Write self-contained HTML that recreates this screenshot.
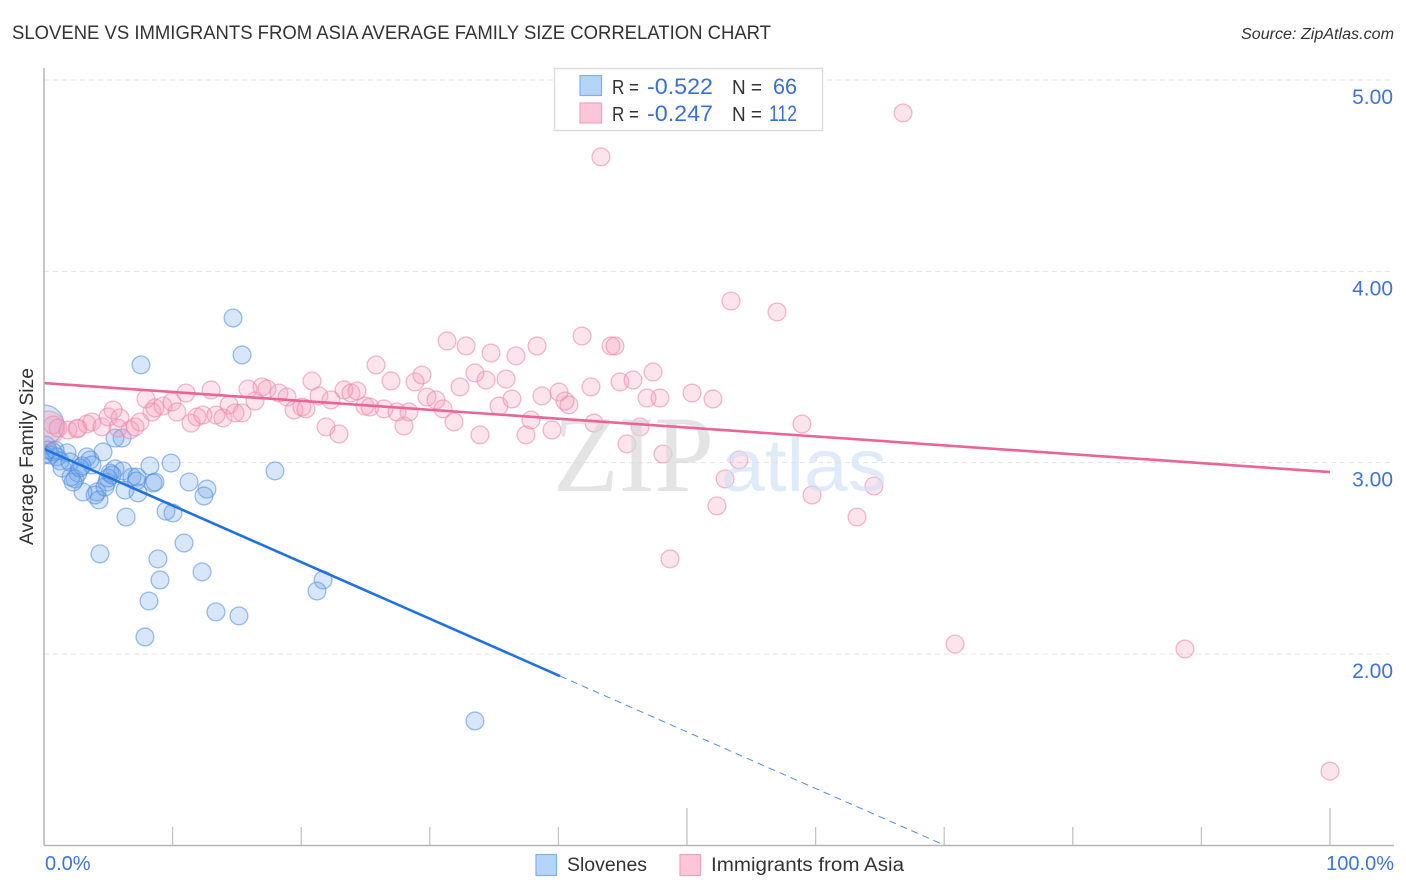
<!DOCTYPE html>
<html>
<head>
<meta charset="utf-8">
<title>Slovene vs Immigrants from Asia Average Family Size Correlation Chart</title>
<style>
html,body{margin:0;padding:0;background:#fff;}
svg{display:block;font-family:"Liberation Sans",sans-serif;}
</style>
</head>
<body>
<svg id="chart" xmlns="http://www.w3.org/2000/svg" width="1406" height="892" viewBox="0 0 1406 892">
  <defs><clipPath id="plot-clip"><rect x="44" y="60" width="1350" height="785"/></clipPath></defs>
  <text x="12" y="39" font-size="19.5" fill="#333" textLength="759" lengthAdjust="spacingAndGlyphs">SLOVENE VS IMMIGRANTS FROM ASIA AVERAGE FAMILY SIZE CORRELATION CHART</text>
  <text x="1241" y="39" font-size="15.5" font-style="italic" fill="#333" textLength="153" lengthAdjust="spacingAndGlyphs">Source: ZipAtlas.com</text>
  <g id="grid"></g>
  <g id="marks-blue" clip-path="url(#plot-clip)"></g>
  <g id="marks-pink" clip-path="url(#plot-clip)"></g>
  <text x="553" y="491" font-family="'Liberation Serif',serif" font-size="109" fill="#d9d9d9" fill-opacity="0.7" textLength="161" lengthAdjust="spacingAndGlyphs">ZIP</text>
  <text x="721" y="491" font-size="74" fill="#cfe0f6" fill-opacity="0.65" textLength="166" lengthAdjust="spacingAndGlyphs">atlas</text>
  <g id="lines"></g>
  <g id="axes"></g>
  <text transform="translate(33,545) rotate(-90)" font-size="19" fill="#333" textLength="177" lengthAdjust="spacingAndGlyphs">Average Family Size</text>

  <g>
    <rect x="554.5" y="68.5" width="268" height="62" fill="#fff" stroke="#dcdcdc" stroke-width="1.5"/>
    <rect x="580" y="75.5" width="21.5" height="20" fill="#b6d3f8" stroke="#7fb0ea" stroke-width="1.2"/>
    <rect x="580" y="103" width="21.5" height="20" fill="#fcc6d8" stroke="#f2a3bf" stroke-width="1.2"/>
    <text x="612" y="94" font-size="20" fill="#333" textLength="27" lengthAdjust="spacingAndGlyphs">R =</text>
    <text x="647" y="94" font-size="22" fill="#3a6fd2" textLength="66" lengthAdjust="spacingAndGlyphs">-0.522</text>
    <text x="732" y="94" font-size="20" fill="#333" textLength="30" lengthAdjust="spacingAndGlyphs">N =</text>
    <text x="773" y="94" font-size="22" fill="#3a6fd2" textLength="24" lengthAdjust="spacingAndGlyphs">66</text>
    <text x="612" y="121" font-size="20" fill="#333" textLength="27" lengthAdjust="spacingAndGlyphs">R =</text>
    <text x="647" y="121" font-size="22" fill="#3a6fd2" textLength="66" lengthAdjust="spacingAndGlyphs">-0.247</text>
    <text x="732" y="121" font-size="20" fill="#333" textLength="30" lengthAdjust="spacingAndGlyphs">N =</text>
    <text x="769" y="121" font-size="22" fill="#3a6fd2" textLength="28" lengthAdjust="spacingAndGlyphs">112</text>
  </g>

  <g>
    <rect x="536" y="854.5" width="20.5" height="21" fill="#b6d3f8" stroke="#7fb0ea" stroke-width="1.2"/>
    <text x="567" y="871" font-size="19" fill="#333" textLength="80" lengthAdjust="spacingAndGlyphs">Slovenes</text>
    <rect x="680" y="854.5" width="20.5" height="21" fill="#fcc6d8" stroke="#f2a3bf" stroke-width="1.2"/>
    <text x="711" y="871" font-size="19" fill="#333" textLength="193" lengthAdjust="spacingAndGlyphs">Immigrants from Asia</text>
  </g>
</svg>
<script>
const yTickValues = [2, 3, 4, 5];
const yTickLabels = ["2.00", "3.00", "4.00", "5.00"];
const xTickValues = [10, 20, 30, 40, 50, 60, 70, 80, 90, 100];
const xTickMajor = [50, 100];
const xEndLabels = ["0.0%", "100.0%"];

const slovenesX = [0,33.51,14.70,7.54,15.40,17.96,9.88,8.24,11.28,12.67,12.44,9.49,10.03,10.89,6.38,4.35,8.86,9.02,12.29,8.16,13.37,15.16,7.85,21.70,21.23,4.59,5.52,6.07,3.34,3.58,1.79,3.73,5.52,6.14,4.90,5.13,4.12,4.28,3.97,3.03,2.41,2.64,2.26,6.30,6.84,7.23,7.31,8.48,8.63,4.74,0.16,0.47,0.70,1.01,1.24,1.40,2.02,2.10,2.95,2.80,0,0.31,0.86,4.98,7.19,5.29];
const slovenesY = [3.197,1.650,3.756,3.511,3.563,2.957,2.998,2.983,2.899,2.862,2.826,2.747,2.737,2.580,2.716,2.523,2.497,2.387,2.429,2.277,2.220,2.199,2.089,2.387,2.329,3.056,3.129,3.129,3.030,3.014,3.051,2.988,2.967,2.957,2.899,2.946,2.847,2.805,2.831,2.847,2.915,2.946,2.899,2.857,2.925,2.925,2.842,2.894,2.899,2.873,3.092,3.040,3.056,3.030,3.009,2.972,3.004,2.925,2.983,2.972,3.040,3.066,3.066,2.920,2.904,2.936];

const immigrantsX = [0.3,0.70,1.09,1.87,2.57,2.64,3.34,3.73,4.51,4.98,5.37,5.76,5.91,6.69,7.08,7.47,7.93,8.40,8.63,9.25,9.95,10.34,11.04,11.43,11.90,12.36,12.99,13.37,13.92,14.39,14.85,15.40,15.86,16.41,16.95,17.34,18.27,18.90,19.44,20.06,20.37,20.84,21.38,21.93,22.32,22.94,23.33,23.87,24.34,24.96,25.35,25.82,26.44,26.98,27.45,27.99,28.38,28.85,29.39,29.78,30.48,31.03,31.34,31.88,32.35,32.82,33.51,33.90,34.37,34.76,35.38,35.93,36.39,36.70,37.48,37.87,38.34,38.72,39.50,40.05,40.51,40.82,41.84,42.53,42.77,43.31,44.09,44.40,44.79,45.33,45.80,46.35,46.89,47.36,47.90,48.13,48.68,50.39,52.02,52.33,52.96,53.42,54.04,57.00,58.94,59.72,63.22,64.54,66.80,70.84,88.72,100];
const immigrantsY = [3.181,3.197,3.181,3.171,3.176,3.181,3.202,3.213,3.187,3.239,3.275,3.181,3.234,3.171,3.187,3.213,3.333,3.265,3.286,3.296,3.317,3.265,3.364,3.207,3.239,3.249,3.380,3.249,3.234,3.302,3.260,3.260,3.385,3.322,3.396,3.385,3.364,3.343,3.275,3.291,3.281,3.427,3.349,3.187,3.328,3.150,3.380,3.364,3.375,3.296,3.291,3.511,3.281,3.427,3.265,3.192,3.265,3.422,3.458,3.343,3.328,3.281,3.636,3.213,3.396,3.610,3.469,3.145,3.432,3.573,3.296,3.437,3.333,3.558,3.145,3.223,3.610,3.349,3.171,3.369,3.322,3.302,3.662,3.396,3.207,4.598,3.610,3.610,3.422,3.098,3.432,3.187,3.338,3.474,3.338,3.045,2.497,3.364,3.333,2.774,2.915,3.845,3.014,3.788,3.202,2.831,2.716,2.878,4.828,2.052,2.026,1.388];

const slovenesTrendX = [0, 40.12];
const slovenesTrendY = [3.072, 1.885];
const slovenesDashX = [40.12, 69.98];
const slovenesDashY = [1.885, 1.002];
const immigrantsTrendX = [0, 100];
const immigrantsTrendY = [3.416, 2.951];

const NS = "http://www.w3.org/2000/svg";
function sx(v){ return 44 + v * 12.86; }
function sy(v){ return 654 - (v - 2) * 191.33; }
function make(tag, attrs, parent){
  const el = document.createElementNS(NS, tag);
  for (const k in attrs) el.setAttribute(k, attrs[k]);
  parent.appendChild(el);
  return el;
}

const grid = document.getElementById("grid");
const axes = document.getElementById("axes");
yTickValues.forEach(function(v, i){
  const line = make("line", {x1:44, x2:1394, y1:sy(v), y2:sy(v), stroke:"#e4e4e4", "stroke-width":1, "stroke-dasharray":"5 4"}, grid);
  
  
  const label = make("text", {x:1393, y:sy(v) + 24, "text-anchor":"end", "font-size":21, fill:"#3f74d6"}, axes);
  
  
  label.textContent = yTickLabels[i];
});
const yAxis = make("line", {x1:44, x2:44, y1:68, y2:845, stroke:"#b5b5b5", "stroke-width":1.5}, axes);


const xAxis = make("line", {x1:44, x2:1394, y1:845.5, y2:845.5, stroke:"#b5b5b5", "stroke-width":1.5}, axes);


xTickValues.forEach(function(v){
  const top = xTickMajor.indexOf(v) >= 0 ? 808 : 827;
  const t = make("line", {x1:sx(v), x2:sx(v), y1:top, y2:845, stroke:"#c4c4c4", "stroke-width":1.3}, axes);
  
  
});
const xLabelLeft = make("text", {x:45, y:870, "font-size":20, fill:"#3f74d6"}, axes);


xLabelLeft.textContent = xEndLabels[0];
const xLabelRight = make("text", {x:1394, y:870, "font-size":20, "text-anchor":"end", fill:"#3f74d6"}, axes);


xLabelRight.textContent = xEndLabels[1];

const blueGroup = document.getElementById("marks-blue");
slovenesX.forEach(function(v, i){
  const c = make("circle", {cx:sx(v), cy:sy(slovenesY[i]), r:i === 0 ? 20 : 8.9, fill:"#6ea6e8", "fill-opacity":0.28, stroke:"#4a8adf", "stroke-opacity":0.55, "stroke-width":1.3}, blueGroup);
  
  
});
const pinkGroup = document.getElementById("marks-pink");
immigrantsX.forEach(function(v, i){
  const c = make("circle", {cx:sx(v), cy:sy(immigrantsY[i]), r:i === 0 ? 17 : 8.9, fill:"#f49ab8", "fill-opacity":0.27, stroke:"#ec89ab", "stroke-opacity":0.6, "stroke-width":1.3}, pinkGroup);
  
  
});

const lines = document.getElementById("lines");
const blueLine = make("line", {x1:sx(slovenesTrendX[0]), y1:sy(slovenesTrendY[0]), x2:sx(slovenesTrendX[1]), y2:sy(slovenesTrendY[1]), stroke:"#2272dd", "stroke-width":2.6}, lines);


const blueDash = make("line", {x1:sx(slovenesDashX[0]), y1:sy(slovenesDashY[0]), x2:sx(slovenesDashX[1]), y2:sy(slovenesDashY[1]), stroke:"#2272dd", "stroke-width":1, "stroke-dasharray":"7 5", "stroke-opacity":0.8}, lines);


const pinkLine = make("line", {x1:sx(immigrantsTrendX[0]), y1:sy(immigrantsTrendY[0]), x2:sx(immigrantsTrendX[1]), y2:sy(immigrantsTrendY[1]), stroke:"#ea6595", "stroke-width":2.6}, lines);


</script>
</body>
</html>
